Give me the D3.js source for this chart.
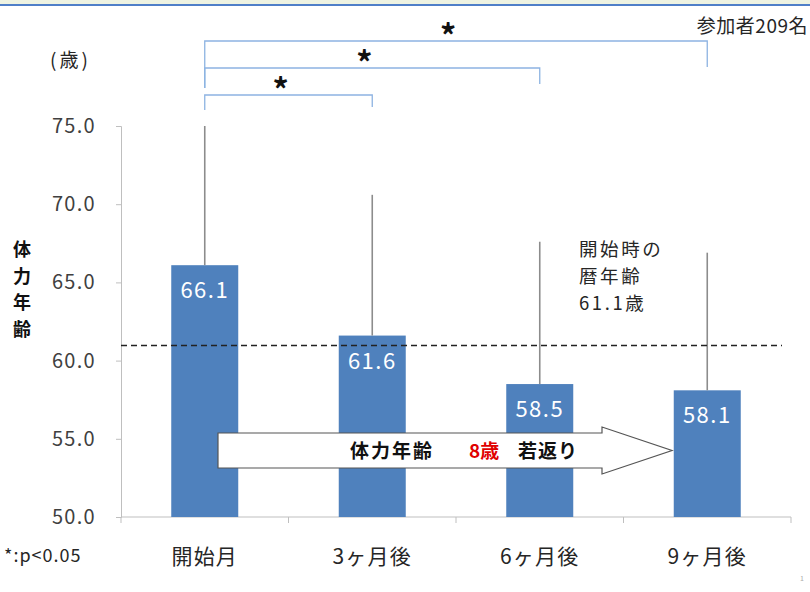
<!DOCTYPE html>
<html><head><meta charset="utf-8">
<script src="https://cdn.jsdelivr.net/npm/d3@7"></script>
<style>body{margin:0;background:#fff}svg{display:block}</style>
</head><body><svg id="c" width="810" height="592"></svg>
<script>
const categories = ["開始月","3ヶ月後","6ヶ月後","9ヶ月後"];
const values = [66.1, 61.6, 58.5, 58.1];
const errTops = [75.0, 70.6, 67.6, 66.9];
const yTicks = [50, 55, 60, 65, 70, 75];
const refAge = 61.1;
const brackets = [[0,3],[0,2],[0,1]];

const font = "'Noto Sans CJK JP','Noto Sans',sans-serif";
const svg = d3.select("#c");
const x = d3.scaleBand().domain(categories).range([121, 791]).paddingInner(0.6).paddingOuter(0.3);
const y = d3.scaleLinear().domain([50, 75]).range([517, 126]);

// header line
svg.append("rect").attr("x",0).attr("y",0).attr("width",810).attr("height",4).attr("fill","#eef3e2");
svg.append("rect").attr("x",0).attr("y",4).attr("width",810).attr("height",2).attr("fill","#4f7fc8");

// y axis
const ya = svg.append("g").attr("transform","translate(121,0)")
  .call(d3.axisLeft(y).tickValues(yTicks).tickFormat(d3.format(".1f")).tickSize(5).tickPadding(20));
ya.select(".domain").attr("stroke","#bfbfbf");
ya.selectAll(".tick line").attr("stroke","#bfbfbf");
ya.selectAll("text").attr("font-family",font).attr("font-size",20).attr("letter-spacing",1.3).attr("fill","#404040");

// x axis
const xb = d3.scaleLinear().domain([0,4]).range([121,791]);
svg.append("line").attr("x1",121).attr("x2",791).attr("y1",517).attr("y2",517).attr("stroke","#bfbfbf");
svg.selectAll(".xt").data(d3.range(5)).join("line").attr("x1",d=>xb(d)).attr("x2",d=>xb(d))
  .attr("y1",517).attr("y2",523).attr("stroke","#bfbfbf");
svg.selectAll(".xl").data(categories).join("text")
  .attr("x",d=>x(d)+x.bandwidth()/2).attr("y",564).attr("text-anchor","middle")
  .attr("font-family",font).attr("font-size",21).attr("letter-spacing",1.2).attr("fill","#262626").text(d=>d);

// bars
svg.selectAll(".bar").data(values).join("rect")
  .attr("x",(d,i)=>x(categories[i])).attr("width",x.bandwidth())
  .attr("y",d=>y(d)).attr("height",d=>y(50)-y(d)).attr("fill","#4f81bd");
// error bars
svg.selectAll(".err").data(errTops).join("line")
  .attr("x1",(d,i)=>x(categories[i])+x.bandwidth()/2).attr("x2",(d,i)=>x(categories[i])+x.bandwidth()/2)
  .attr("y1",(d,i)=>y(values[i])).attr("y2",d=>y(d)).attr("stroke","#8c8c8c").attr("stroke-width",1.6);
// value labels
svg.selectAll(".vl").data(values).join("text")
  .attr("x",(d,i)=>x(categories[i])+x.bandwidth()/2).attr("y",d=>y(d)+33)
  .attr("text-anchor","middle").attr("font-family",font).attr("font-size",22).attr("letter-spacing",1.5).attr("fill","#fff")
  .text(d=>d3.format(".1f")(d));

// dashed reference
svg.append("line").attr("x1",121).attr("x2",782).attr("y1",y(refAge)+2).attr("y2",y(refAge)+2)
  .attr("stroke","#222").attr("stroke-width",1.5).attr("stroke-dasharray","6,4");

// brackets
const cx = i => x(categories[i])+x.bandwidth()/2;
const bY = [41, 68, 95], rLeg = [67, 84, 107], lBot = [88, 88, 110];
brackets.forEach((b,k)=>{
  const x0 = cx(b[0]), x1 = cx(b[1]);
  svg.append("path").attr("d",`M${x0},${lBot[k]}V${bY[k]}H${x1}V${rLeg[k]}`)
    .attr("fill","none").attr("stroke","#8db3e2").attr("stroke-width",1.3);
  svg.append("text").attr("x",(x0+x1)/2-8).attr("y",bY[k]+7).attr("text-anchor","middle")
    .attr("font-family",font).attr("font-size",32).attr("font-weight","bold").attr("fill","#111").text("*");
});

// texts
svg.append("text").attr("x",808).attr("y",33).attr("text-anchor","end").attr("font-family",font)
  .attr("font-size",19).attr("letter-spacing",0.5).attr("fill","#262626").text("参加者209名");
svg.append("text").attr("x",50).attr("y",67).attr("font-family",font).attr("font-size",19).attr("letter-spacing",3).attr("fill","#262626").text("(歳)");
const yl = svg.append("text").attr("font-family",font).attr("font-size",18).attr("font-weight","bold").attr("fill","#111");
["体","力","年","齢"].forEach((c,i)=>yl.append("tspan").attr("x",13).attr("y",256+i*26.5).text(c));
svg.append("text").attr("x",4).attr("y",562).attr("font-family",font).attr("font-size",18).attr("letter-spacing",1).attr("fill","#262626").text("*:p<0.05");
["開始時の","暦年齢","61.1歳"].forEach((t,i)=>svg.append("text").attr("font-family",font)
  .attr("font-size",18.5).attr("letter-spacing",2.6).attr("fill","#262626")
  .attr("x",579).attr("y",256+i*27).text(t));
svg.append("text").attr("x",800).attr("y",581).attr("font-family",font).attr("font-size",7).attr("fill","#aaa").text("1");

// arrow
const ax0=218, ax1=672, hx=602, by0=433, by1=468, hy0=427, hy1=474;
svg.append("path").attr("d",`M${ax0},${by0}H${hx}V${hy0}L${ax1},${(by0+by1)/2}L${hx},${hy1}V${by1}H${ax0}Z`)
  .attr("fill","#fff").attr("stroke","#555").attr("stroke-width",1.2);
const at = svg.append("text").attr("y",458).attr("font-family",font).attr("font-size",19).attr("font-weight","bold").attr("fill","#111");
at.append("tspan").attr("x",350).attr("letter-spacing",2).text("体力年齢");
at.append("tspan").attr("x",469).attr("letter-spacing",0).attr("fill","#e00000").text("8歳");
at.append("tspan").attr("x",518).attr("letter-spacing",1).text("若返り");
</script></body></html>
